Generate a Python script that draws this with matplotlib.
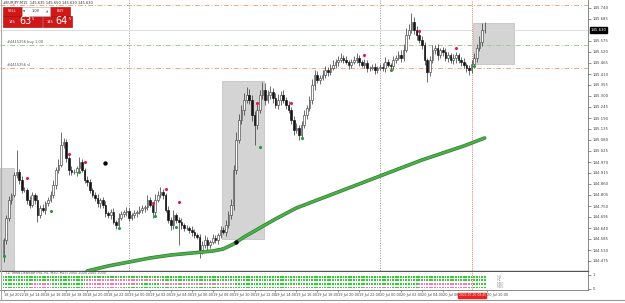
import numpy as np
import matplotlib
matplotlib.use("Agg")
import matplotlib.pyplot as plt
from matplotlib.patches import Rectangle

# ---- data (prices in points above 144.000) ----
BASE = 144.0
open0_pts = 505
close_pts = [
    580, 690, 780, 805, 905, 920, 880, 830, 830, 780,
    755, 805, 780, 705, 740, 730, 765, 780, 805, 855,
    930, 955, 1055, 1070, 990, 930, 920, 920, 940, 970,
    930, 880, 870, 830, 805, 790, 765, 780, 755, 715,
    705, 720, 670, 655, 690, 710, 720, 725, 690, 705,
    715, 720, 730, 740, 745, 780, 755, 720, 780, 805,
    820, 805, 730, 680, 655, 705, 680, 670, 655, 640,
    640, 630, 620, 605, 595, 530, 555, 580, 555, 570,
    590, 580, 605, 630, 620, 655, 705, 755, 930, 1080,
    1180, 1230, 1280, 1305, 1280, 1205, 1155, 1230, 1305, 1330,
    1280, 1305, 1320, 1290, 1255, 1280, 1305, 1280, 1255, 1230,
    1180, 1130, 1140, 1105, 1155, 1205, 1240, 1280, 1355, 1405,
    1380, 1390, 1405, 1430, 1420, 1440, 1455, 1470, 1480, 1490,
    1480, 1470, 1455, 1470, 1480, 1490, 1470, 1455, 1465, 1440,
    1440, 1445, 1430, 1440, 1445, 1440, 1470, 1455, 1450, 1480,
    1490, 1505, 1490, 1530, 1605, 1630, 1670, 1630, 1605, 1580,
    1555, 1480, 1420, 1480, 1530, 1540, 1505, 1530, 1520, 1490,
    1505, 1480, 1490, 1505, 1480, 1470, 1455, 1440, 1430, 1460,
    1490, 1540, 1570, 1630, 1630,
]
wick_up = [
    10, 15, 20, 10, 15, 110, 15, 20, 15, 10,
    20, 15, 10, 25, 15, 20, 10, 15, 20, 25,
    15, 30, 65, 20, 15, 10, 20, 15, 10, 25,
    15, 10, 20, 15, 10, 15, 20, 10, 15, 20,
    10, 15, 20, 10, 25, 15, 10, 20, 15, 10,
    15, 10, 20, 15, 10, 25, 15, 10, 30, 20,
    25, 15, 10, 20, 15, 25, 10, 15, 20, 10,
    15, 10, 20, 15, 10, 15, 20, 25, 15, 10,
    20, 15, 10, 20, 15, 25, 20, 30, 25, 40,
    30, 25, 35, 40, 30, 25, 20, 30, 25, 40,
    35, 25, 30, 20, 25, 30, 20, 25, 15, 20,
    15, 20, 25, 15, 20, 25, 15, 20, 30, 25,
    20, 15, 25, 20, 15, 20, 25, 15, 20, 25,
    15, 20, 10, 15, 20, 25, 15, 10, 20, 15,
    10, 15, 20, 10, 15, 20, 25, 15, 10, 20,
    15, 20, 25, 30, 35, 30, 45, 25, 20, 15,
    20, 15, 10, 20, 25, 15, 20, 10, 15, 20,
    15, 10, 20, 15, 10, 15, 20, 10, 15, 20,
    25, 20, 30, 35, 40,
]
wick_dn = [
    35, 20, 15, 20, 10, 15, 20, 15, 10, 20,
    15, 10, 20, 35, 15, 10, 20, 15, 10, 15,
    20, 15, 10, 15, 20, 25, 15, 10, 20, 15,
    10, 15, 20, 15, 10, 15, 20, 25, 15, 20,
    15, 20, 10, 20, 15, 10, 15, 20, 15, 10,
    15, 20, 10, 15, 20, 15, 10, 30, 15, 10,
    15, 20, 10, 15, 25, 20, 15, 115, 20, 15,
    10, 15, 20, 15, 10, 40, 20, 15, 30, 15,
    10, 15, 20, 15, 10, 20, 15, 20, 25, 20,
    15, 20, 25, 15, 20, 30, 100, 20, 15, 20,
    25, 15, 20, 25, 15, 20, 25, 15, 20, 15,
    20, 25, 15, 25, 20, 15, 20, 15, 20, 25,
    15, 20, 10, 15, 20, 15, 10, 15, 20, 10,
    15, 10, 20, 15, 10, 15, 20, 10, 15, 20,
    15, 10, 20, 15, 10, 15, 20, 10, 15, 20,
    15, 10, 20, 15, 10, 20, 15, 20, 25, 15,
    20, 25, 50, 20, 15, 20, 25, 15, 20, 15,
    20, 15, 20, 25, 15, 20, 15, 20, 25, 15,
    15, 20, 15, 20, 15,
]

# moving average (bar, pts)
ma_bars = [32, 40, 48, 56, 64, 72, 80, 84, 88, 92, 96, 104, 112, 120, 128, 136, 144, 152, 160, 168, 176, 184]
ma_pts = [425, 450, 470, 490, 505, 515, 525, 535, 560, 595, 625, 685, 740, 780, 820, 860, 900, 940, 980, 1015, 1050, 1090]

# signal dots (bar, pts)
red_bars = [9, 25, 31, 57, 62, 67, 97, 110, 138, 159, 173]
red_pts = [890, 1010, 970, 765, 835, 770, 1265, 1265, 1505, 1625, 1540]
green_bars = [0, 18, 29, 44, 58, 66, 98, 114, 148, 180]
green_pts = [500, 725, 920, 640, 700, 645, 1045, 1090, 1430, 1450]
black_bars = [39, 89]
black_pts = [965, 570]

# shaded zones (bar_from, bar_to, pts_low, pts_high)
zones = [(-1.4, 4.0, 300, 940), (83.6, 99.6, 585, 1375), (179.5, 195.2, 1460, 1665)]

# horizontal levels (pts, colour, label)
levels = [(1755, "#f4a582", ""), (1555, "#9ccc9c", "#4415256 buy 1.00"),
          (1440, "#f4a582", "#4415256 sl")]
bid_pts = 1630
day_sep_bars = [48, 144]
cursor_bar = 179

# trend panel: pink runs (start, end) per timeframe row
tf_names = ["H4", "H1", "M30", "M15"]
pink_runs = [
    [],
    [(32, 60)],
    [(11, 18), (32, 52), (60, 88), (159, 179)],
    [(11, 18), (32, 45), (110, 115), (138, 148), (159, 179)],
]

# axis labels
price_ticks = [145.740, 145.685, 145.575, 145.520, 145.465, 145.410, 145.355, 145.300, 145.245,
               145.190, 145.135, 145.080, 145.025, 144.970, 144.915, 144.860, 144.805, 144.750,
               144.695, 144.640, 144.585, 144.530, 144.475]
time_bars = [0, 8, 16, 24, 32, 40, 48, 56, 64, 72, 80, 88, 96, 104, 112, 120, 128, 136, 144,
             152, 160, 168, 185]
time_labels = ["18 Jul 2022", "18 Jul 14:00", "18 Jul 16:00", "18 Jul 18:00", "18 Jul 20:00", "18 Jul 22:00",
               "19 Jul 00:00", "19 Jul 02:00", "19 Jul 04:00", "19 Jul 06:00", "19 Jul 08:00", "19 Jul 10:00",
               "19 Jul 12:00", "19 Jul 14:00", "19 Jul 16:00", "19 Jul 18:00", "19 Jul 20:00", "19 Jul 22:00",
               "20 Jul 00:00", "20 Jul 02:00", "20 Jul 04:00", "20 Jul 06:00", "20 Jul 10:00"]

# ---- figure ----
W, H = 625, 303
fig = plt.figure(figsize=(W / 100, H / 100), dpi=100)
fig.patch.set_facecolor("white")


def fx(px):
    return px / W


def fy(py):
    return 1 - py / H


ax = fig.add_axes([0, fy(271), fx(588), 271 / H])
axp = fig.add_axes([0, fy(290), fx(588), 18 / H])

px_per_bar = 2.615
x0 = 3.5
xlim = (-x0 / px_per_bar, (588 - x0) / px_per_bar)

closes = BASE + np.array(close_pts) / 1000
opens = np.concatenate([[BASE + open0_pts / 1000], closes[:-1]])
tops = np.maximum(opens, closes)
bots = np.minimum(opens, closes)
highs = tops + np.array(wick_up) / 1000
lows = bots - np.array(wick_dn) / 1000
xs = np.arange(len(closes))

for b0, b1, lo, hi in zones:
    ax.add_patch(Rectangle((b0, BASE + lo / 1000), b1 - b0, (hi - lo) / 1000,
                           facecolor="#d4d4d4", edgecolor="#c4c4c4", lw=0.6, zorder=0))

for b in day_sep_bars:
    ax.axvline(b, color="#9a9a9a", lw=0.6, ls=(0, (1.5, 1.5)), zorder=1)
ax.axvline(cursor_bar, color="#e05050", lw=0.5, ls=(0, (1.5, 1.5)), zorder=1)

for p, c, lab in levels:
    ax.axhline(BASE + p / 1000, color=c, lw=0.7, ls=(0, (5, 2, 1, 2)), zorder=1)
    if lab:
        ax.text(1.5, BASE + p / 1000 + 0.003, lab, fontsize=2.6, color="#555555", va="bottom")
ax.axhline(BASE + bid_pts / 1000, color="#d8d8d8", lw=0.6, zorder=1)

ax.vlines(xs, lows, highs, color="#333333", lw=0.5, zorder=2)
up = closes >= opens
ax.bar(xs[up], (tops - bots)[up], bottom=bots[up], width=0.62, color="white",
       edgecolor="#444444", lw=0.45, zorder=3)
ax.bar(xs[~up], np.maximum(tops - bots, 0.002)[~up], bottom=bots[~up], width=0.62,
       color="#111111", edgecolor="#111111", lw=0.45, zorder=3)

ax.plot(ma_bars, BASE + np.array(ma_pts) / 1000, color="#2f7f2f", lw=2.6, zorder=4,
        solid_capstyle="round")
ax.plot(ma_bars, BASE + np.array(ma_pts) / 1000, color="#4caf4c", lw=1.6, zorder=4,
        solid_capstyle="round")

ax.scatter(red_bars, BASE + np.array(red_pts) / 1000, s=5, color="#e8194a", zorder=5, lw=0)
ax.scatter(green_bars, BASE + np.array(green_pts) / 1000, s=5, color="#1e9a3c", zorder=5, lw=0)
ax.scatter(black_bars, BASE + np.array(black_pts) / 1000, s=10, color="black", zorder=5, lw=0)

ax.set_xlim(*xlim)
ax.set_ylim(BASE + 0.425, BASE + 1.780)
ax.yaxis.tick_right()
ax.set_yticks(price_ticks)
ax.set_yticklabels([f"{v:.3f}" for v in price_ticks])
ax.tick_params(axis="y", labelsize=2.8, length=2, width=0.4, pad=1.5, colors="#444444")
ax.set_xticks([])
for s in ["top", "left"]:
    ax.spines[s].set_visible(False)
ax.spines["right"].set_color("#777777")
ax.spines["right"].set_linewidth(0.6)
ax.spines["bottom"].set_color("#555555")
ax.spines["bottom"].set_linewidth(1.0)

ax.text(xlim[1] + 0.9, BASE + bid_pts / 1000, f"{BASE + bid_pts / 1000:.3f}",
        fontsize=2.8, color="white", va="center", ha="left",
        bbox=dict(boxstyle="square,pad=0.15", fc="black", ec="black"), clip_on=False, zorder=10)

# trend panel
for r, runs in enumerate(pink_runs):
    yv = 3 - r
    cols = np.array(["#2fcf2f"] * len(closes), dtype=object)
    for a, b in runs:
        cols[a:b + 1] = "#f07ab0"
    axp.scatter(xs, np.full(len(xs), yv), marker="s", s=1.6, c=list(cols), lw=0)
    axp.text(188.5, yv, tf_names[r], fontsize=2.5, color="#999999", va="center")
axp.set_xlim(*xlim)
axp.set_ylim(-0.7, 4.3)
axp.text(1, 3.95, "(1) Trend Detector (H4, H1, M30, M15) 2000 2000 2000 2000", fontsize=2.3,
         color="#444444", va="center")
axp.yaxis.tick_right()
axp.set_yticks([3.6, -0.3])
axp.set_yticklabels(["1", "0"])
axp.tick_params(axis="y", labelsize=2.6, length=2, width=0.4, pad=1.5, colors="#444444")
axp.set_xticks(time_bars)
axp.set_xticklabels(time_labels, ha="left")
axp.tick_params(axis="x", labelsize=2.5, length=1.5, width=0.4, pad=1.0, colors="#444444")
for s in ["top", "left"]:
    axp.spines[s].set_visible(False)
axp.spines["right"].set_color("#777777")
axp.spines["right"].set_linewidth(0.6)
axp.spines["bottom"].set_color("#777777")
axp.spines["bottom"].set_linewidth(0.6)
axp.axvline(cursor_bar, color="#e05050", lw=0.5, ls=(0, (1.5, 1.5)))
axp.text(cursor_bar + 0.3, -1.6, "2022.07.20 08:45", fontsize=2.2, color="white", ha="center", va="top",
         bbox=dict(boxstyle="square,pad=0.15", fc="#ee2222", ec="#ee2222"), clip_on=False, zorder=10)

# header and trade panel
fig.text(fx(3), fy(3), "#EURJPY,M15  145.635 145.650 145.620 145.630", fontsize=2.6, color="#333333",
         va="center", ha="left")
red = "#d01818"
for (x, y, w, h) in [(3, 7, 19, 9), (50, 7, 20, 9), (3, 16, 39, 11), (43, 16, 29, 11)]:
    fig.patches.append(Rectangle((fx(x), fy(y + h)), w / W, h / H, transform=fig.transFigure,
                                 facecolor=red, edgecolor="#a00000", lw=0.4))
fig.patches.append(Rectangle((fx(22), fy(16)), 28 / W, 9 / H, transform=fig.transFigure,
                             facecolor="white", edgecolor="#aaaaaa", lw=0.4))
fig.text(fx(12), fy(11.5), "SELL", fontsize=2.6, color="white", ha="center", va="center")
fig.text(fx(60), fy(11.5), "BUY", fontsize=2.6, color="white", ha="center", va="center")
fig.text(fx(36), fy(11.5), "1.00", fontsize=2.6, color="#333333", ha="center", va="center")
fig.text(fx(24.5), fy(11.5), "\u25bc", fontsize=2.2, color="#666666", ha="center", va="center")
fig.text(fx(47.5), fy(11.5), "\u25b2", fontsize=2.2, color="#666666", ha="center", va="center")
fig.text(fx(12), fy(22), "145", fontsize=2.6, color="white", ha="center", va="center")
fig.text(fx(25), fy(21.5), "63", fontsize=7, color="white", ha="center", va="center")
fig.text(fx(33), fy(18.5), "5", fontsize=2.6, color="white", ha="center", va="center")
fig.text(fx(50), fy(22), "145", fontsize=2.6, color="white", ha="center", va="center")
fig.text(fx(62), fy(21.5), "64", fontsize=7, color="white", ha="center", va="center")
fig.text(fx(70), fy(18.5), "5", fontsize=2.6, color="white", ha="center", va="center")

fig.add_artist(plt.Line2D([0, 1], [fy(300), fy(300)], color="#999999", lw=0.8))
fig.add_artist(plt.Line2D([fx(0.5), fx(0.5)], [fy(300), 1], color="#aaaaaa", lw=0.8))

fig.savefig("out.png", dpi=100, facecolor="white")
